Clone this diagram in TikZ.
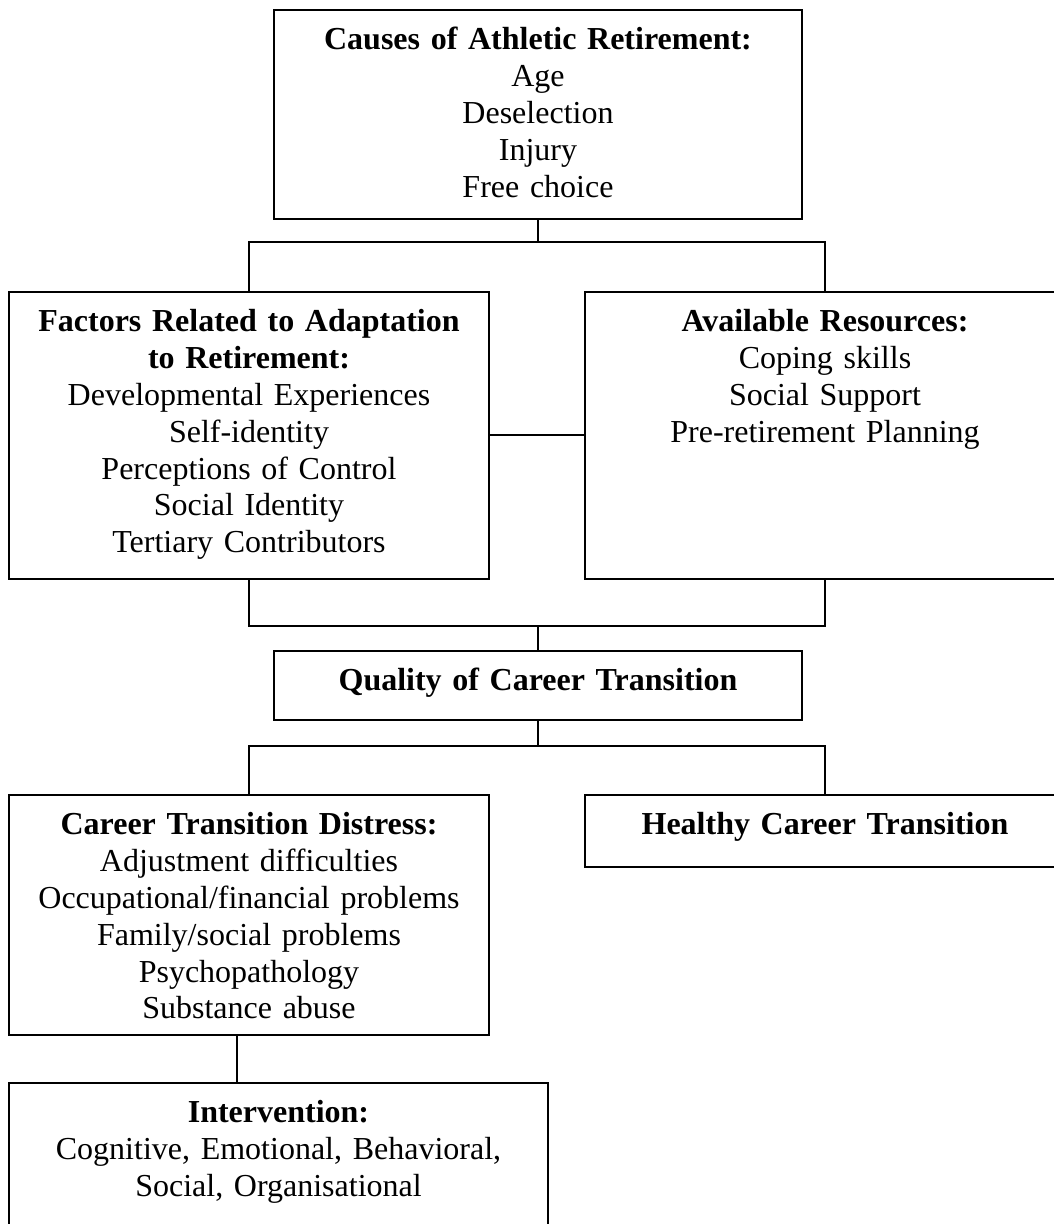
\documentclass[tikz,border=0pt]{standalone}
\usepackage{fontspec}
\setmainfont{Liberation Serif}

\begin{document}
\begin{tikzpicture}[x=0.375pt,y=-0.375pt,
	box/.style={draw, line width=.6pt, anchor=north, align=center, inner sep=0pt, text height=15pt, font=\fontsize{12pt}{13.8pt}\selectfont},
	link/.style={line width=.6pt}]
	\useasboundingbox (0,0) rectangle (1054,1224);
	\node[box, text width=198pt, text depth=63.4pt] (causes) at (538,9) {\textbf{Causes of Athletic Retirement:}\\Age\\Deselection\\Injury\\Free choice};
	\node[box, text width=180pt, text depth=92.6pt] (factors) at (249,291) {\textbf{Factors Related to Adaptation}\\\textbf{to Retirement:}\\Developmental Experiences\\Self-identity\\Perceptions of Control\\Social Identity\\Tertiary Contributors};
	\node[box, text width=180pt, text depth=92.6pt] (resources) at (825,291) {\textbf{Available Resources:}\\Coping skills\\Social Support\\Pre-retirement Planning};
	\node[box, text width=198pt, text depth=10.9pt] (quality) at (538,650) {\textbf{Quality of Career Transition}};
	\node[box, text width=180pt, text depth=75pt] (distress) at (249,794) {\textbf{Career Transition Distress:}\\Adjustment difficulties\\Occupational/financial problems\\Family/social problems\\Psychopathology\\Substance abuse};
	\node[box, text width=180pt, text depth=12pt] (healthy) at (825,794) {\textbf{Healthy Career Transition}};
	\node[box, text width=202pt, text depth=45pt] (intervention) at (278.5,1082) {\textbf{Intervention:}\\Cognitive, Emotional, Behavioral,\\Social, Organisational};
	\coordinate (c1) at (538,242);
	\coordinate (c2) at (538,626);
	\coordinate (c3) at (538,746);
	\coordinate (c4) at (237,1034);
	\draw[link] (causes.south) -- (c1);
	\draw[link] (factors.north) |- (c1) -| (resources.north);
	\draw[link] (factors.east) -- (resources.west);
	\draw[link] (factors.south) |- (c2) -| (resources.south);
	\draw[link] (c2) -- (quality.north);
	\draw[link] (quality.south) -- (c3);
	\draw[link] (distress.north) |- (c3) -| (healthy.north);
	\draw[link] (c4) -- (c4 |- intervention.north);
\end{tikzpicture}
\end{document}
